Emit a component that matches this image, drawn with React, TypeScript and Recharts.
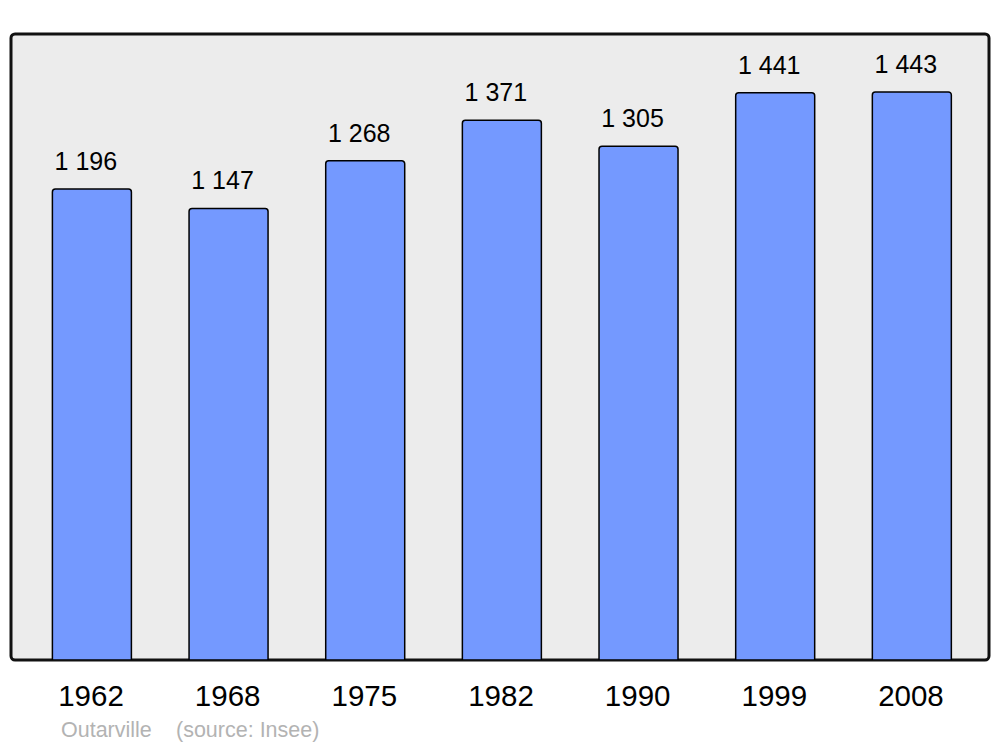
import React from 'react';
import { BarChart, Bar, XAxis, YAxis, LabelList, ReferenceArea } from 'recharts';

const years = ['1962', '1968', '1975', '1982', '1990', '1999', '2008'];
const population = [1196, 1147, 1268, 1371, 1305, 1441, 1443];
const townName = 'Outarville';
const sourceText = '(source: Insee)';

const data = years.map((y, i) => ({ year: y, pop: population[i] }));

const fmt = (v: any) => {
  const s = String(v);
  return s.replace(/\B(?=(\d{3})+(?!\d))/g, ' ');
};

const FONT = '"Liberation Sans", Arial, sans-serif';

export default function App() {
  return (
    <div style={{ position: 'absolute', left: 0, top: 0, width: 1000, height: 747, background: '#fff' }}>
      <BarChart
        width={1000}
        height={747}
        data={data}
        margin={{ top: 34, right: 11, bottom: 57, left: 11 }}
        barCategoryGap="21%"
      >
        <YAxis hide domain={[0, 1590]} type="number" allowDataOverflow />
        <XAxis
          dataKey="year"
          height={30}
          padding={{ left: 12.7, right: 8.7 }}
          axisLine={false}
          tickLine={false}
          tickSize={0}
          tickMargin={25}
          interval={0}
          tick={{ fill: '#000', fontSize: 29.5, fontFamily: FONT, dx: -1 }}
        />
        <XAxis xAxisId="frame" type="number" domain={[0, 1]} allowDataOverflow hide />
        <ReferenceArea
          xAxisId="frame"
          y1={0}
          y2={1590}
          fill="#ececec"
          fillOpacity={1}
          stroke="#111"
          strokeWidth={3}
          radius={4}
          ifOverflow="visible"
        />
        <Bar
          dataKey="pop"
          fill="#7499ff"
          stroke="#000"
          strokeWidth={1.5}
          radius={[3, 3, 0, 0]}
          isAnimationActive={false}
        >
          <LabelList
            dataKey="pop"
            position="top"
            offset={19}
            dx={-6}
            formatter={fmt}
            style={{ fill: '#000', fontSize: 25, fontFamily: FONT }}
          />
        </Bar>
      </BarChart>
      <svg width={1000} height={747} style={{ position: 'absolute', left: 0, top: 0, pointerEvents: 'none' }}>
        <text x={61} y={737} fill="#b3b3b3" fontSize={21.5} fontFamily={FONT}>{townName}</text>
        <text x={176} y={737} fill="#b3b3b3" fontSize={21.5} fontFamily={FONT}>{sourceText}</text>
      </svg>
    </div>
  );
}
